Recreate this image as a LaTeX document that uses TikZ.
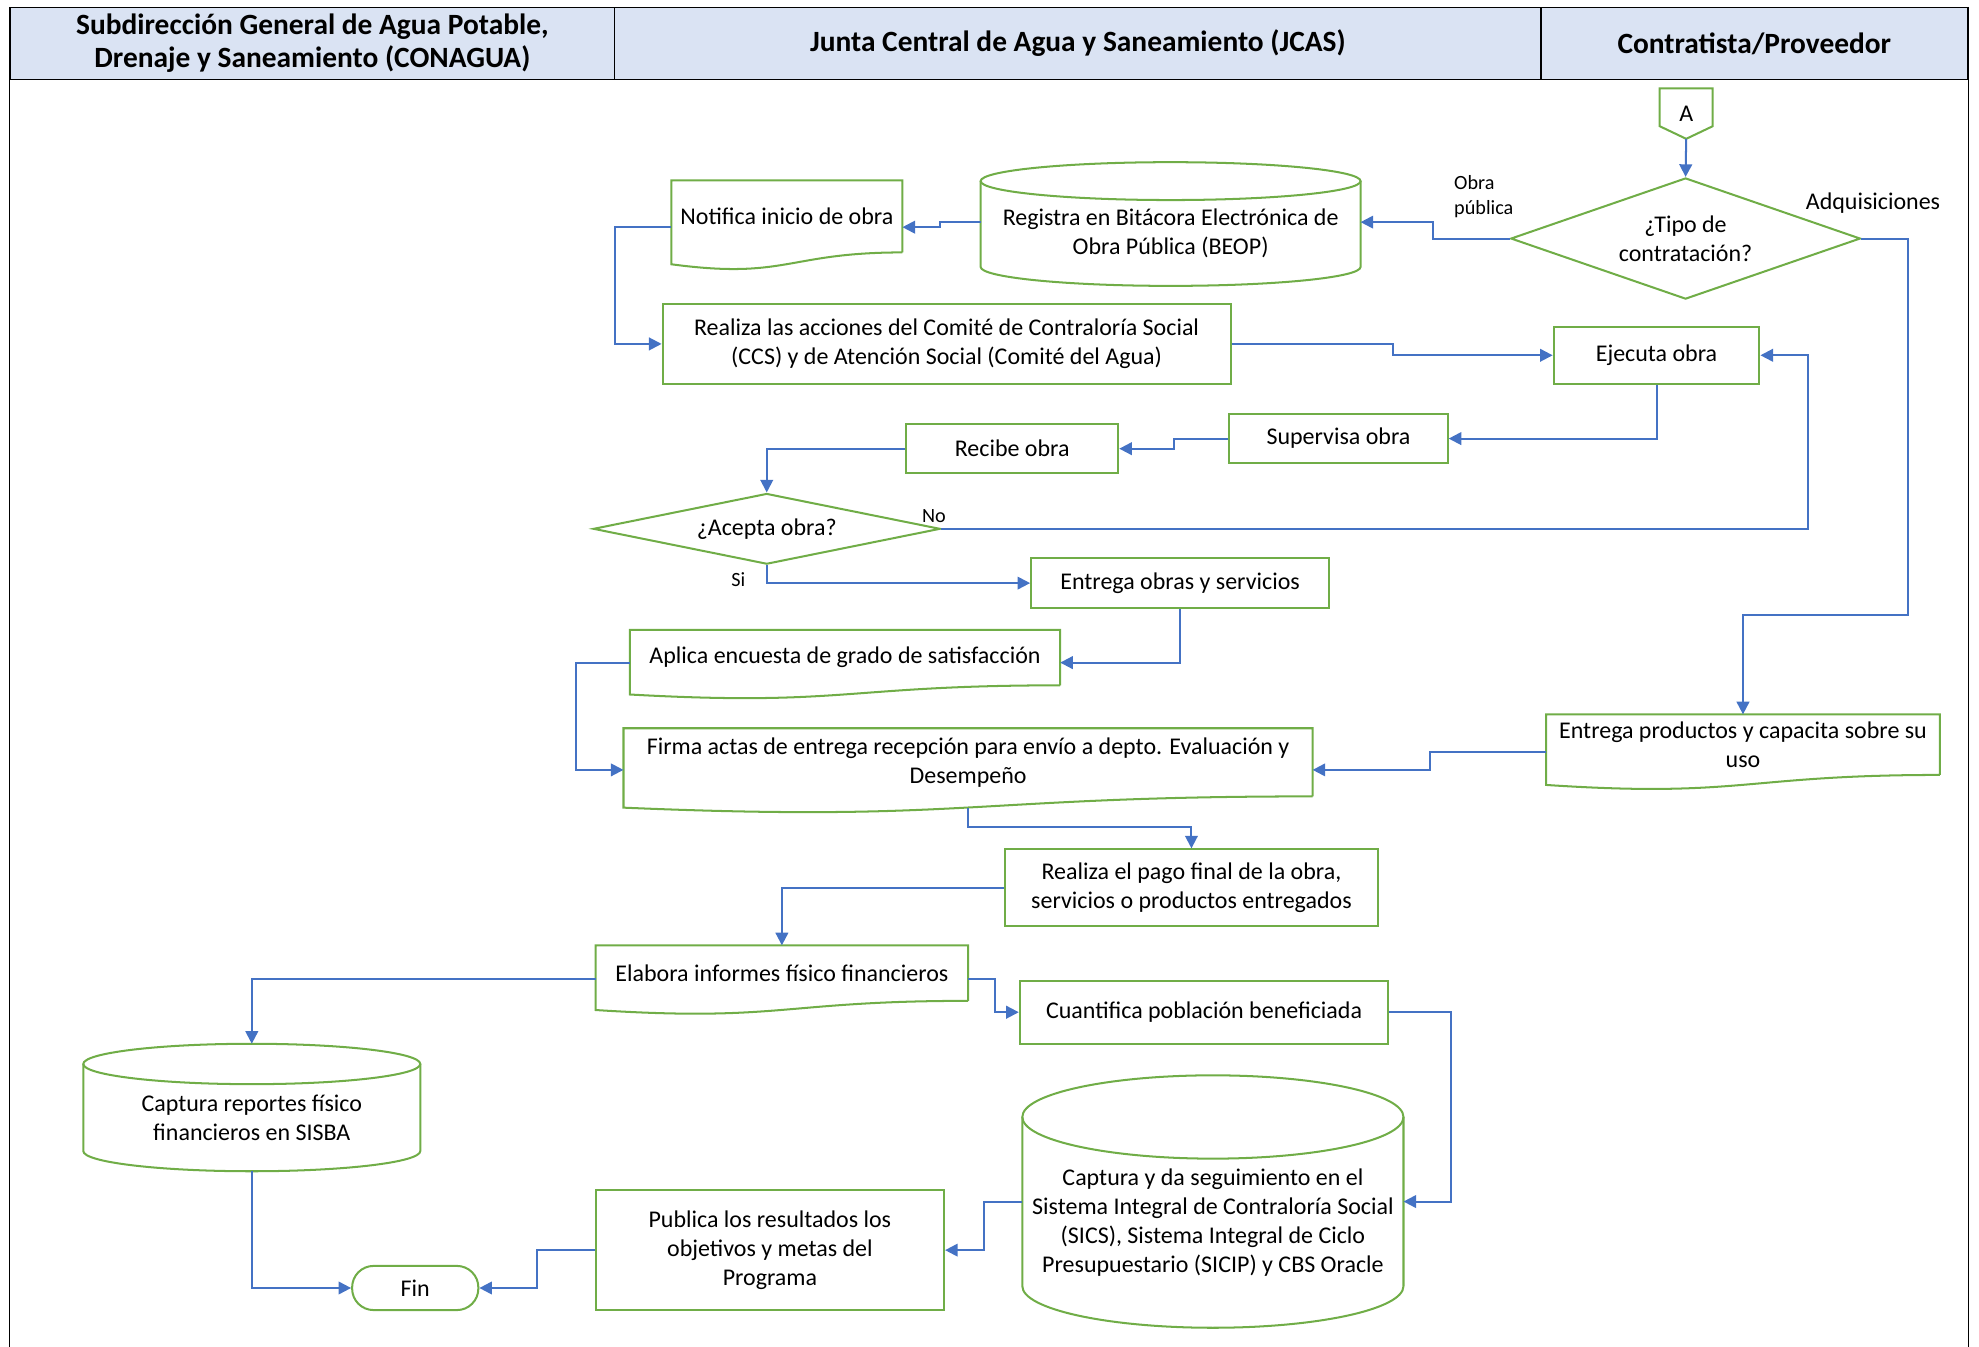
\documentclass[tikz,border=0pt]{standalone}
\usepackage{fontspec}
\setmainfont{Carlito}
\usetikzlibrary{arrows.meta,calc,shapes.geometric}

\definecolor{verdeborde}{HTML}{70AD47}
\definecolor{azulflecha}{HTML}{4472C4}
\definecolor{azulencab}{HTML}{DAE3F3}

% documento con borde inferior ondulado
\newcommand{\formadoc}[1]{%
  \draw[borde] (#1.south east) -- (#1.north east) -- (#1.north west)
    -- ($(#1.south west)!-0.165!(#1.north west)$)
    .. controls ($(#1.south)!-0.38!(#1.north)$) and (#1.south) .. (#1.south east);}
% cilindro (base de datos): #2 radio x, #3 radio y
\newcommand{\formacil}[3]{%
  \draw[borde] ($(#1.north)+(0,-#3)$) ellipse [x radius=#2pt, y radius=#3pt];
  \draw[borde] ($(#1.north west)+(0,-#3)$) -- (#1.south west)
    arc[start angle=180, end angle=360, x radius=#2pt, y radius=#3pt]
    -- ($(#1.north east)+(0,-#3)$);}
% conector fuera de pagina
\newcommand{\formaconector}[1]{%
  \draw[borde] (#1.north west) -- (#1.north east) -- ($(#1.north east)!0.75!(#1.south east)$)
    -- (#1.south) -- ($(#1.north west)!0.75!(#1.south west)$) -- cycle;}

\begin{document}
\begin{tikzpicture}[x=1pt, y=-1pt,
  font=\fontsize{19}{23}\selectfont,
  borde/.style={draw=verdeborde, line width=1.6pt},
  caja/.style={rectangle, borde, align=center, inner sep=0pt},
  hueco/.style={rectangle, align=center, inner sep=0pt, outer sep=0pt},
  decision/.style={diamond, borde, align=center, inner sep=0pt},
  flecha/.style={draw=azulflecha, line width=1.6pt, -{Triangle[length=10pt,width=10pt]}},
  encab/.style={rectangle, draw=black, line width=1.2pt, fill=azulencab, align=center,
    font=\fontsize{23.3}{26}\selectfont\bfseries, minimum height=57pt, inner sep=0pt},
  etiq/.style={font=\fontsize{16}{19.5}\selectfont, inner sep=0pt}]

\useasboundingbox (0,0) rectangle (1568,1067);

% encabezado
\node[encab, minimum width=479pt] (col1) at (247.5,34.5) {Subdirección General de Agua Potable,\\Drenaje y Saneamiento (CONAGUA)};
\node[encab, minimum width=734pt] (col2) at (854,34.5) {Junta Central de Agua y Saneamiento (JCAS)};
\node[encab, minimum width=338pt] (col3) at (1390,34.5) {Contratista/Proveedor};
\draw[line width=1.2pt] (col1.north west) -- (col1.north west |- 0,1067);
\draw[line width=1.2pt] (col3.north east) -- (col3.north east |- 0,1067);

% nodos
\node[hueco, minimum width=42pt, minimum height=40pt] (conA) at (1336,90) {A};
\formaconector{conA}
\node[decision, aspect=2.885, minimum width=277pt, minimum height=96pt] (tipo) at (1335.5,189) {¿Tipo de\\contratación?};
\node[hueco, minimum width=301pt, minimum height=53pt] (bitacora) at (927.5,185) {Registra en Bitácora Electrónica de\\Obra Pública (BEOP)};
\formacil{bitacora}{150.5}{15}
\node[hueco, minimum width=183pt, minimum height=57pt] (notifica) at (623.5,171.5) {Notifica inicio de obra};
\formadoc{notifica}
\node[caja, minimum width=450pt, minimum height=63pt] (ccs) at (750,272.5) {Realiza las acciones del Comité de Contraloría Social\\(CCS) y de Atención Social (Comité del Agua)};
\node[caja, minimum width=163pt, minimum height=45pt] (ejecuta) at (1312.5,281.5) {Ejecuta obra};
\node[caja, minimum width=173pt, minimum height=39pt] (supervisa) at (1060.5,347.5) {Supervisa obra};
\node[caja, minimum width=168pt, minimum height=39pt] (recibe) at (802,355.5) {Recibe obra};
\node[decision, aspect=4.91, minimum width=275pt, minimum height=56pt] (acepta) at (607.5,419) {¿Acepta obra?};
\node[caja, minimum width=236pt, minimum height=40pt] (entregaobras) at (935,462) {Entrega obras y servicios};
\node[hueco, minimum width=341pt, minimum height=44pt] (encuesta) at (669.5,521) {Aplica encuesta de grado de satisfacción};
\formadoc{encuesta}
\node[hueco, minimum width=546pt, minimum height=54pt] (firma) at (767,604) {Firma actas de entrega recepción para envío a depto. Evaluación y\\Desempeño};
\formadoc{firma}
\node[hueco, minimum width=312pt, minimum height=48pt] (productos) at (1381,590) {Entrega productos y capacita sobre su\\uso};
\formadoc{productos}
\node[caja, minimum width=296pt, minimum height=61pt] (pago) at (944,703.5) {Realiza el pago final de la obra,\\servicios o productos entregados};
\node[hueco, minimum width=295pt, minimum height=44pt] (informes) at (619.5,771) {Elabora informes físico financieros};
\formadoc{informes}
\node[caja, minimum width=292pt, minimum height=50pt] (cuantifica) at (954,802) {Cuantifica población beneficiada};
\node[hueco, minimum width=302pt, minimum height=101pt] (sics) at (961,968.5) {Captura y da seguimiento en el\\Sistema Integral de Contraloría Social\\(SICS), Sistema Integral de Ciclo\\Presupuestario (SICIP) y CBS Oracle};
\formacil{sics}{151}{33}
\node[caja, minimum width=276pt, minimum height=95pt] (publica) at (610,990.5) {Publica los resultados los\\objetivos y metas del\\Programa};
\node[caja, rounded corners=17pt, minimum width=100pt, minimum height=35pt] (fin) at (329,1020.5) {Fin};
\node[hueco, minimum width=267pt, minimum height=53pt] (sisba) at (199.5,885.5) {Captura reportes físico\\financieros en SISBA};
\formacil{sisba}{133.5}{16}

% etiquetas
\node[etiq, anchor=west, align=left] (lblobra) at (1152,156) {Obra\\pública};
\node[inner sep=0pt] (lbladq) at (1484,161) {Adquisiciones};
\node[etiq] (lblno) at (740,409) {No};
\node[etiq] (lblsi) at (585,459) {Si};

% conectores
\draw[flecha] (conA.south) -- (tipo.north);
\draw[flecha] (tipo.west) -- ++(-61,0) |- ($(bitacora.east)+(0,-9)$);
\draw[flecha] ($(bitacora.west)+(0,-9)$) -- ++(-32,0) |- ($(notifica.east)+(0,8.5)$);
\draw[flecha] ($(notifica.west)+(0,8.5)$) -- ++(-45,0) |- (ccs.west);
\draw[flecha] (ccs.east) -- ++(128,0) |- (ejecuta.west);
\draw[flecha] (ejecuta.south) |- (supervisa.east);
\draw[flecha] (supervisa.west) -- ++(-43,0) |- (recibe.east);
\draw[flecha] (recibe.west) -| (acepta.north);
\draw[flecha] (acepta.east) -- ++(687,0) |- (ejecuta.east);
\draw[flecha] (acepta.south) |- (entregaobras.west);
\draw[flecha] (entregaobras.south) |- ($(encuesta.east)+(0,4)$);
\draw[flecha] ($(encuesta.west)+(0,4)$) -- ++(-43,0) |- ($(firma.west)+(0,6)$);
\draw[flecha] (tipo.east) -| ($(productos.north)+(131,-79)$) -| (productos.north);
\draw[flecha] ($(productos.west)+(0,6)$) -- ++(-92,0) |- ($(firma.east)+(0,6)$);
\draw[flecha] ($(firma.south)+(0,9)$) -- ++(0,15) -| (pago.north);
\draw[flecha] (pago.west) -| (informes.north);
\draw[flecha] ($(informes.east)+(0,5)$) -- ++(21,0) |- (cuantifica.west);
\draw[flecha] (cuantifica.east) -- ++(49,0) |- ($(sics.east)+(0,-16.5)$);
\draw[flecha] ($(sics.west)+(0,-16.5)$) -- ++(-30,0) |- (publica.east);
\draw[flecha] (publica.west) -- ++(-46,0) |- (fin.east);
\draw[flecha] ($(informes.west)+(0,5)$) -| ($(sisba.north)+(0,-32)$);
\draw[flecha] ($(sisba.south)+(0,16)$) |- (fin.west);
\end{tikzpicture}
\end{document}
